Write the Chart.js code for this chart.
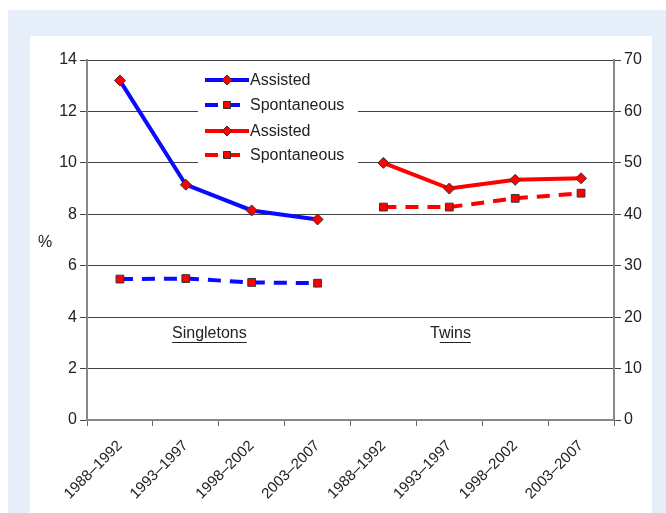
<!DOCTYPE html>
<html>
<head>
<meta charset="utf-8">
<script src="https://cdn.jsdelivr.net/npm/chart.js@4.4.0/dist/chart.umd.min.js"></script>
<style>
  html, body { margin: 0; padding: 0; background: #fff; }
  #outer { position: absolute; left: 8px; top: 10px; width: 658px; height: 503px; background: #e6eef9; }
  #panel { position: absolute; left: 22px; top: 26px; width: 622px; height: 477px; background: #fff; }
  canvas { display: block; }
</style>
</head>
<body>
<div id="outer"><div id="panel"><canvas id="chart" width="622" height="477"></canvas></div></div>
<script>
// categories: 4 periods for singletons, then the same 4 for twins
const periods = ['1988–1992', '1993–1997', '1998–2002', '2003–2007'];
const categories = periods.concat(periods);

// singletons (left axis, %)
const singAssisted = [13.2, 9.15, 8.15, 7.8];
const singSpontaneous = [5.48, 5.5, 5.35, 5.32];
// twins (right axis, %)
const twinAssisted = [50, 45, 46.7, 47];
const twinSpontaneous = [41.4, 41.4, 43.1, 44.1];

const leftTicks = [0, 2, 4, 6, 8, 10, 12, 14];
const rightTicks = [0, 10, 20, 30, 40, 50, 60, 70];

const pad = arr => arr.concat([null, null, null, null]);
const padFront = arr => [null, null, null, null].concat(arr);

const FONT = 'Liberation Sans, Arial, sans-serif';
const BLUE = '#0a0aff';
const RED = '#ff0000';

function series(label, data, color, dashed, axis) {
    return {
        label: label,
        data: data,
        yAxisID: axis,
        borderColor: color,
        backgroundColor: RED,
        borderWidth: 4,
        borderDash: dashed ? [13, 9] : [],
        pointStyle: dashed ? 'rect' : 'rectRot',
        pointRadius: 5.5,
        pointBorderColor: '#333',
        pointBorderWidth: 1,
        pointBackgroundColor: RED,
        tension: 0,
        spanGaps: false
    };
}

// legend box drawn inside the plot area, over the grid lines
const innerLegend = {
    id: 'innerLegend',
    afterDatasetsDraw(chart) {
        const ctx = chart.ctx;
        ctx.save();
        ctx.fillStyle = '#fff';
        ctx.fillRect(168, 31, 160, 99);
        const rows = [44, 69, 95, 119];
        chart.data.datasets.forEach((ds, i) => {
            const y = rows[i];
            ctx.strokeStyle = ds.borderColor;
            ctx.lineWidth = 4;
            ctx.setLineDash(ds.borderDash);
            ctx.beginPath();
            ctx.moveTo(175, y);
            ctx.lineTo(219, y);
            ctx.stroke();
            ctx.setLineDash([]);
            ctx.fillStyle = RED;
            ctx.strokeStyle = '#333';
            ctx.lineWidth = 1;
            ctx.beginPath();
            if (ds.pointStyle === 'rectRot') {
                ctx.moveTo(197, y - 5); ctx.lineTo(202, y); ctx.lineTo(197, y + 5); ctx.lineTo(192, y);
                ctx.closePath();
            } else {
                ctx.rect(193.5, y - 3.5, 7, 7);
            }
            ctx.fill();
            ctx.stroke();
            ctx.fillStyle = '#222';
            ctx.font = '16px ' + FONT;
            ctx.textAlign = 'left';
            ctx.textBaseline = 'middle';
            ctx.fillText(ds.label, 220, y + 1);
        });

        // group labels and the % axis title
        ctx.font = '16px ' + FONT;
        ctx.fillStyle = '#222';
        ctx.textBaseline = 'middle';
        ctx.textAlign = 'left';
        ctx.fillText('Singletons', 142, 298);
        let w = ctx.measureText('Singletons').width;
        ctx.fillRect(142, 306, w, 1);
        ctx.fillText('Twins', 400, 298);
        const tw = ctx.measureText('T').width;
        w = ctx.measureText('Twins').width;
        ctx.fillRect(400 + tw, 306, w - tw, 1);
        ctx.textAlign = 'center';
        ctx.fillText('%', 15, 207);
        ctx.restore();
    }
};

new Chart(document.getElementById('chart'), {
    type: 'line',
    data: {
        labels: categories,
        datasets: [
            series('Assisted', pad(singAssisted), BLUE, false, 'y'),
            series('Spontaneous', pad(singSpontaneous), BLUE, true, 'y'),
            series('Assisted', padFront(twinAssisted), RED, false, 'y2'),
            series('Spontaneous', padFront(twinSpontaneous), RED, true, 'y2')
        ]
    },
    options: {
        responsive: false,
        animation: false,
        layout: { padding: { top: 24, left: 0, right: 0, bottom: 0 } },
        plugins: { legend: { display: false }, tooltip: { enabled: false } },
        scales: {
            x: {
                offset: true,
                grid: { offset: true, drawOnChartArea: false, drawTicks: true, tickLength: 6, color: '#666', lineWidth: 1 },
                border: { color: '#888', width: 2 },
                ticks: { minRotation: 45, maxRotation: 45, autoSkip: false, padding: 11, color: '#222', font: { family: FONT, size: 15 } },
                afterFit(scale) { scale.height = 93; }
            },
            y: {
                position: 'left',
                min: 0, max: 14,
                afterBuildTicks(scale) { scale.ticks = leftTicks.map(v => ({ value: v })); },
                grid: { color: '#444', lineWidth: 1, tickLength: 7 },
                border: { color: '#888', width: 2 },
                ticks: { padding: 3, color: '#222', font: { family: FONT, size: 16 } },
                afterFit(scale) { scale.width = 57; }
            },
            y2: {
                position: 'right',
                min: 0, max: 70,
                afterBuildTicks(scale) { scale.ticks = rightTicks.map(v => ({ value: v })); },
                grid: { drawOnChartArea: false, color: '#444', lineWidth: 1, tickLength: 7 },
                border: { color: '#888', width: 2 },
                ticks: { padding: 3, color: '#222', font: { family: FONT, size: 16 } },
                afterFit(scale) { scale.width = 38; }
            }
        }
    },
    plugins: [innerLegend]
});
</script>
</body>
</html>
